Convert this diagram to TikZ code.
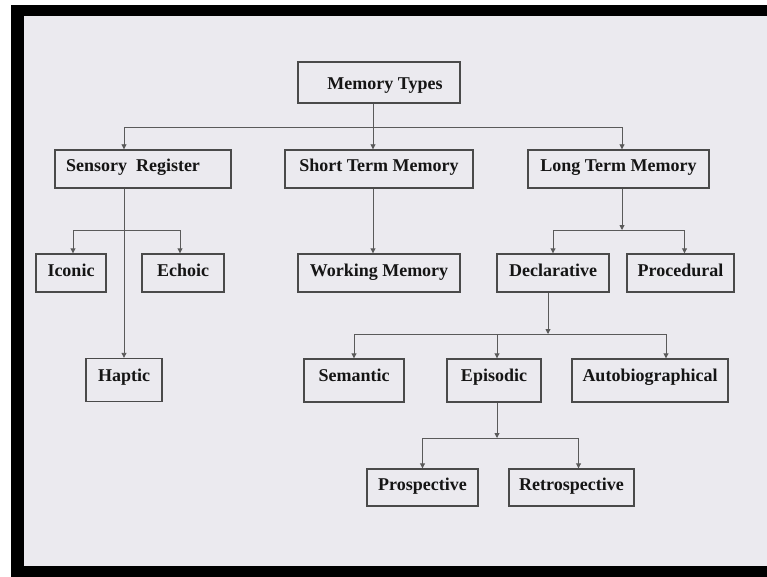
\documentclass[tikz,border=0pt]{standalone}
\usepackage{fontspec}
\setmainfont{Liberation Serif}
\usetikzlibrary{arrows.meta}
\definecolor{bg}{HTML}{EBEAEF}
\definecolor{boxline}{HTML}{4A4A4A}
\definecolor{connc}{HTML}{5A5A5A}
\definecolor{txt}{HTML}{151515}
\begin{document}
\begin{tikzpicture}[x=1pt,y=-1pt,
  mbox/.style={draw=boxline,line width=1.4pt,fill=bg,inner sep=0pt,
    font=\fontsize{18}{20}\selectfont\bfseries,text=txt,
    text height=13pt,text depth=7pt},
  tall/.style={text depth=11pt},
  conn/.style={draw=connc,line width=0.9pt},
  arr/.style={conn,-{Triangle[length=5pt,width=5pt]}}]
\useasboundingbox (0,0) rectangle (767,577);
\fill[white] (0,0) rectangle (767,577);
\fill[black] (11,5) rectangle (767,577);
\fill[bg] (24,16) rectangle (767,566);

% nodes
\node[mbox,text height=16pt,text depth=1pt,minimum width=162pt,minimum height=41pt] (mt) at (379,82.5) {\hspace*{12pt}Memory Types};
\node[mbox,minimum width=176pt,minimum height=38pt] (sr) at (143,169) {Sensory\ \ Register\hspace*{20pt}};
\node[mbox,minimum width=188pt,minimum height=38pt] (stm) at (379,169) {Short Term Memory};
\node[mbox,minimum width=181pt,minimum height=38pt] (ltm) at (618.5,169) {Long Term Memory};
\node[mbox,minimum width=70pt,minimum height=38pt] (ico) at (71,273) {Iconic};
\node[mbox,minimum width=82pt,minimum height=38pt] (ech) at (183,273) {Echoic};
\node[mbox,minimum width=162pt,minimum height=38pt] (wm) at (379,273) {Working Memory};
\node[mbox,minimum width=112pt,minimum height=38pt] (decl) at (553,273) {Declarative};
\node[mbox,minimum width=107pt,minimum height=38pt] (proc) at (680.5,273) {Procedural};
\node[mbox,tall,minimum width=76pt,minimum height=43pt] (hap) at (124,380) {Haptic};
\node[mbox,tall,minimum width=100pt,minimum height=43pt] (sem) at (354,380.5) {Semantic};
\node[mbox,tall,minimum width=94pt,minimum height=43pt] (epi) at (494,380.5) {Episodic};
\node[mbox,tall,minimum width=156pt,minimum height=43pt] (auto) at (650,380.5) {Autobiographical};
\node[mbox,minimum width=111pt,minimum height=37pt] (pro) at (422.5,487.5) {Prospective};
\node[mbox,minimum width=125pt,minimum height=37pt] (ret) at (571.5,487.5) {Retrospective};

% junction coordinates
\coordinate (bar1) at (373,127);
\coordinate (xa) at (124,0);
\coordinate (xc) at (622,0);
\coordinate (bar2) at (124,230);
\coordinate (bar3) at (622,230);
\coordinate (bar4) at (548,334);
\coordinate (bar5) at (497,438);

% connectors
\draw[arr] (mt.south -| bar1) -- (stm.north -| bar1);
\draw[arr] (bar1) -| (sr.north -| xa);
\draw[arr] (bar1) -| (ltm.north -| xc);

\draw[arr] (sr.south -| xa) -- (hap.north -| xa);
\draw[arr] (bar2) -| ([xshift=2pt]ico.north);
\draw[arr] (bar2) -| ([xshift=-3pt]ech.north);

\draw[arr] (stm.south -| bar1) -- (wm.north -| bar1);

\draw[arr] (ltm.south -| bar3) -- (bar3);
\draw[arr] (bar3) -| (decl.north);
\draw[arr] (bar3) -| ([xshift=4pt]proc.north);

\draw[arr] (decl.south -| bar4) -- (bar4);
\draw[arr] (bar4) -| (sem.north);
\draw[arr] (bar4) -| ([xshift=3pt]epi.north);
\draw[arr] (bar4) -| ([xshift=16pt]auto.north);

\draw[arr] (epi.south -| bar5) -- (bar5);
\draw[arr] (bar5) -| (pro.north);
\draw[arr] (bar5) -| ([xshift=7pt]ret.north);
\end{tikzpicture}
\end{document}
